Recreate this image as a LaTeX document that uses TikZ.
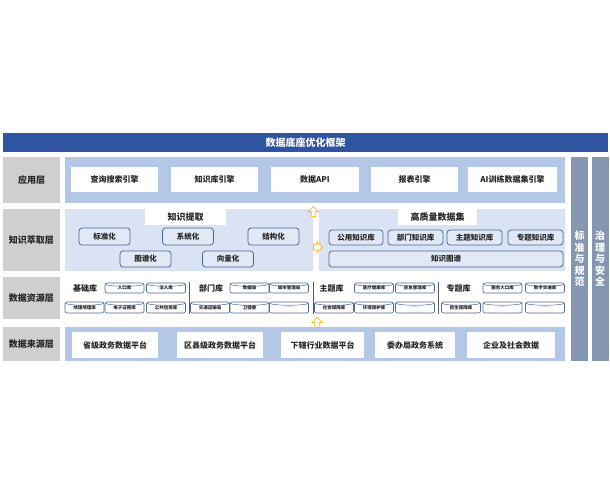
\documentclass[tikz,border=0pt]{standalone}
\usepackage{fontspec}
\setmainfont{Noto Sans CJK SC}
\usetikzlibrary{shapes.arrows}
\definecolor{titleblue}{HTML}{2F55A0}
\definecolor{panelblue}{HTML}{B4C7E7}
\definecolor{lightpanel}{HTML}{DAE3F3}
\definecolor{labelgray}{HTML}{D0CECE}
\definecolor{sidegray}{HTML}{8497B0}
\definecolor{boxline}{HTML}{4D6694}
\definecolor{boxfill}{HTML}{E2E9F6}
\definecolor{arrowyellow}{HTML}{FFC000}
\definecolor{inktext}{HTML}{262626}

\begin{document}
\begin{tikzpicture}[x=1pt,y=-1pt,
    layer/.style={fill=labelgray, inner sep=0pt, minimum width=57pt, text=inktext,
      font=\fontsize{9}{10}\selectfont\bfseries},
    whitebox/.style={fill=white, inner sep=0pt, minimum height=25pt, text=inktext,
      font=\fontsize{8}{9}\selectfont\bfseries},
    tab/.style={fill=white, inner sep=0pt, minimum height=16pt, text=inktext,
      font=\fontsize{9}{10}\selectfont\bfseries},
    kbox/.style={draw=boxline, fill=boxfill, line width=0.8pt, rounded corners=3pt,
      inner sep=0pt, minimum height=15pt, text=inktext,
      font=\fontsize{7.5}{8}\selectfont\bfseries},
    libname/.style={inner sep=0pt, text=inktext, font=\fontsize{8}{9}\selectfont\bfseries},
    cyl/.style={draw=boxline, fill=white, line width=0.6pt, rounded corners=2pt,
      inner sep=0pt, minimum width=39pt, minimum height=10pt, text=inktext,
      font=\fontsize{4.5}{5}\selectfont\bfseries,
      path picture={\draw[boxline, line width=0.5pt]
        ([yshift=-1pt]path picture bounding box.north west)
        .. controls +(2pt,-3pt) and +(-2pt,-3pt) ..
        ([yshift=-1pt]path picture bounding box.north east);}},
    sidebar/.style={fill=sidegray, inner sep=0pt, minimum width=17pt, minimum height=204pt,
      text=white, align=center, font=\fontsize{10}{11.5}\selectfont\bfseries},
    upflow/.style={single arrow, draw=arrowyellow, fill=white, line width=0.8pt,
      shape border rotate=90, inner sep=1.8pt, minimum height=10pt,
      single arrow head extend=3pt},
    rightflow/.style={single arrow, draw=arrowyellow, fill=white, line width=0.8pt,
      inner sep=2.5pt, minimum height=7pt, single arrow head extend=2.5pt}]

  \useasboundingbox (0,0) rectangle (610,496);

  % title bar
  \node[fill=titleblue, minimum width=605pt, minimum height=19pt, inner sep=0pt,
    text=white, font=\fontsize{10}{11}\selectfont\bfseries] (title) at (305.5,142.5) {数据底座优化框架};

  % panels
  \fill[panelblue] (65,157) rectangle (565,203);
  \fill[lightpanel] (65,209) rectangle (313,271);
  \fill[lightpanel] (319,209) rectangle (565,271);
  \fill[panelblue] (65,327) rectangle (565,361);

  % layer names
  \node[layer, minimum height=46pt] (app) at (31.5,180) {应用层};
  \node[layer, minimum height=62pt] (know) at (31.5,240) {知识萃取层};
  \node[layer, minimum height=42pt] (res) at (31.5,298) {数据资源层};
  \node[layer, minimum height=34pt] (src) at (31.5,344) {数据来源层};

  % application layer
  \node[whitebox, minimum width=87pt] (search) at (114.5,179.5) {查询搜索引擎};
  \node[whitebox, minimum width=87pt] (kbengine) at (214.5,179.5) {知识库引擎};
  \node[whitebox, minimum width=88pt] (api) at (315,179.5) {数据API};
  \node[whitebox, minimum width=87pt] (report) at (414.5,179.5) {报表引擎};
  \node[whitebox, minimum width=89pt] (aitrain) at (512.5,179.5) {AI训练数据集引擎};

  % knowledge extraction layer
  \node[tab, minimum width=81pt] (extract) at (185.5,217) {知识提取};
  \node[tab, minimum width=79pt] (dataset) at (437.5,217) {高质量数据集};

  \node[kbox, minimum width=51pt, minimum height=17pt] (std) at (104.5,236.5) {标准化};
  \node[kbox, minimum width=51pt, minimum height=17pt] (sys) at (188,236.5) {系统化};
  \node[kbox, minimum width=51pt, minimum height=17pt] (struct) at (273.5,236.5) {结构化};
  \node[kbox, minimum width=51pt, minimum height=16pt] (graph) at (145.5,259) {图谱化};
  \node[kbox, minimum width=51pt, minimum height=16pt] (vector) at (228,259) {向量化};

  \node[kbox, minimum width=54pt] (pubkb) at (356,237.5) {公用知识库};
  \node[kbox, minimum width=55pt] (deptkb) at (415.5,237.5) {部门知识库};
  \node[kbox, minimum width=55pt] (topickb) at (474.5,237.5) {主题知识库};
  \node[kbox, minimum width=55pt] (themekb) at (535.5,237.5) {专题知识库};
  \node[kbox, minimum width=234pt, minimum height=16pt] (kgraph) at (446,259) {知识图谱};

  % data resource layer
  \node[libname] (baselib) at (85,288) {基础库};
  \node[cyl] (people) at (124.5,288) {人口库};
  \node[cyl] (legal) at (166,288) {法人库};
  \node[cyl, minimum height=11pt] (geo) at (84.5,307.5) {地理地理库};
  \node[cyl, minimum height=11pt] (license) at (124.5,307.5) {电子证照库};
  \node[cyl, minimum height=11pt] (credit) at (166,307.5) {公共信用库};
  \draw[gray!70!black, line width=0.6pt] (189,282) -- (189,314);

  \node[libname] (deptlib) at (211,288) {部门库};
  \node[cyl] (bureau) at (249.5,288) {数据局};
  \node[cyl] (city) at (289,288) {城市管理局};
  \node[cyl, minimum height=11pt] (traffic) at (210,307.5) {交通运输局};
  \node[cyl, minimum height=11pt] (health) at (249.5,307.5) {卫健委};
  \node[cyl, minimum height=11pt, text=gray] (deptmore) at (289,307.5) {……};
  \draw[gray!70!black, line width=0.6pt] (313,282) -- (313,314);

  \node[libname] (topiclib) at (331.5,288) {主题库};
  \node[cyl] (medical) at (374,288) {医疗健康库};
  \node[cyl] (emerg) at (415,288) {应急管理库};
  \node[cyl, minimum height=11pt] (social) at (334,307.5) {社会保障库};
  \node[cyl, minimum height=11pt] (envir) at (374,307.5) {环境保护库};
  \node[cyl, minimum height=11pt, text=gray] (topicmore) at (415,307.5) {……};
  \draw[gray!70!black, line width=0.6pt] (438,282) -- (438,314);

  \node[libname] (themelib) at (458.5,288) {专题库};
  \node[cyl] (servpeople) at (502.5,288) {服务人口库};
  \node[cyl] (digtraffic) at (545,288) {数字交通库};
  \node[cyl, minimum height=11pt] (livelihood) at (461,307.5) {民生保障库};
  \node[cyl, minimum height=11pt, text=gray] (thememore) at (502.5,307.5) {……};
  \node[cyl, minimum height=11pt, text=gray] (thememore2) at (545,307.5) {……};

  % data source layer
  \node[whitebox, minimum width=86pt, minimum height=26pt] (prov) at (115,345) {省级政务数据平台};
  \node[whitebox, minimum width=86pt, minimum height=26pt] (county) at (220,345) {区县级政务数据平台};
  \node[whitebox, minimum width=83pt, minimum height=26pt] (industry) at (322.5,345) {下辖行业数据平台};
  \node[whitebox, minimum width=80pt, minimum height=26pt] (office) at (415,345) {委办局政务系统};
  \node[whitebox, minimum width=88pt, minimum height=26pt] (enterprise) at (511,345) {企业及社会数据};

  % flow arrows
  \node[upflow] (upa) at (313.5,212.5) {};
  \node[rightflow] (righta) at (316.5,247) {};
  \node[upflow] (upb) at (317,323.5) {};

  % side bars
  \node[sidebar] (norm) at (579.5,259) {标\\准\\与\\规\\范};
  \node[sidebar] (govern) at (600,259) {治\\理\\与\\安\\全};
\end{tikzpicture}
\end{document}
